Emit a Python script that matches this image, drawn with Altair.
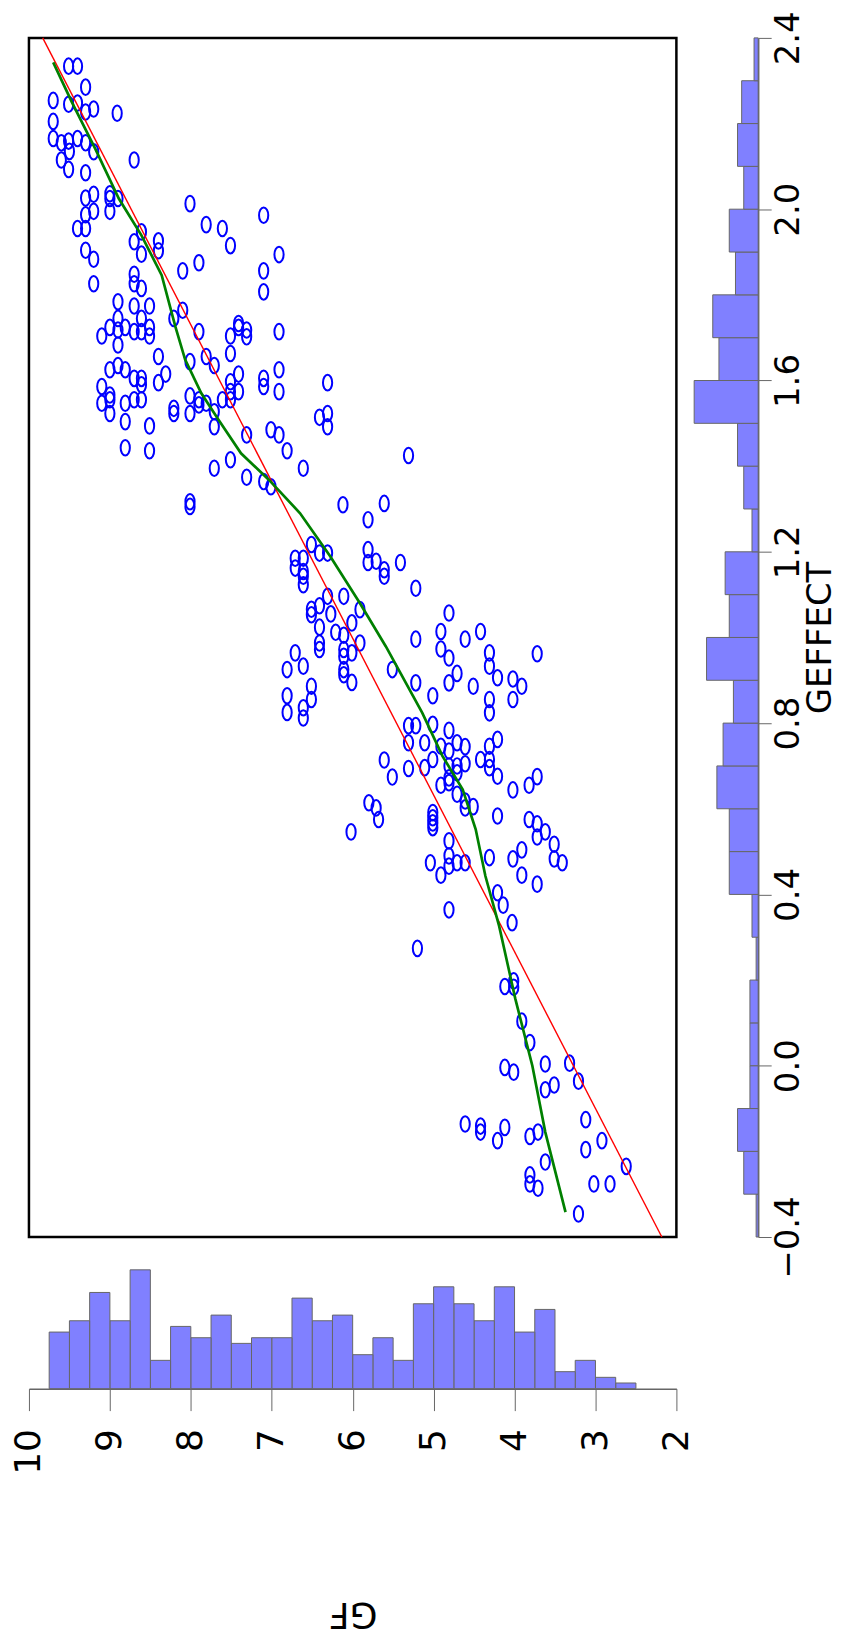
import altair as alt
import pandas as pd

# ---------------- data ----------------
gf = [9.51, 9.40, 9.30, 9.70, 9.51, 9.40, 9.30, 9.20, 8.91, 9.70, 9.70, 9.60, 9.51, 9.50, 9.40, 9.30, 9.20, 9.60, 9.51, 8.70,
      9.30, 9.30, 9.20, 9.00, 9.00, 8.90, 9.00, 9.20, 9.30, 9.40, 9.30, 8.01, 7.81, 7.61, 7.10, 7.51, 6.91, 8.70, 8.61, 8.61,
      8.40, 8.40, 9.30, 9.20, 8.10, 7.90, 7.10, 8.70, 9.20, 8.70, 8.61, 7.10, 8.90, 8.70, 8.51, 8.10, 8.21, 8.90, 8.61, 9.00,
      9.10, 8.90, 8.81, 8.70, 8.61, 8.51, 8.51, 8.90, 7.90, 7.51, 7.41, 7.41, 7.31, 7.31, 6.91, 7.51, 8.40, 8.01, 7.81, 7.71,
      9.00, 8.90, 8.81, 8.70, 8.61, 8.61, 8.31, 8.40, 9.10, 9.00, 9.00, 9.10, 9.00, 8.81, 8.70, 8.61, 8.81, 8.51, 8.81, 8.51,
      8.21, 8.21, 8.01, 8.01, 7.90, 7.90, 7.81, 7.71, 7.71, 7.61, 7.51, 7.51, 7.51, 7.41, 7.41, 7.10, 7.10, 6.91, 6.91, 6.31,
      6.41, 6.31, 6.31, 7.31, 7.01, 6.91, 6.81, 6.61, 7.51, 7.71, 7.31, 7.10, 7.01, 8.01, 8.01, 6.12, 5.31, 5.61, 5.81, 6.51,
      6.71, 6.71, 6.61, 6.61, 6.61, 6.61, 6.41, 6.31, 5.81, 5.81, 5.71, 5.61, 5.61, 5.41, 5.22, 6.31, 6.11, 6.41, 6.51, 6.51,
      5.91, 6.27, 6.01, 6.41, 6.21, 6.11, 4.81, 4.91, 4.42, 5.22, 4.61, 5.91, 6.41, 6.41, 6.71, 6.11, 6.11, 6.01, 6.61, 6.81,
      6.11, 6.11, 6.01, 6.51, 6.51, 6.81, 6.81, 6.61, 6.61, 5.51, 5.22, 4.91, 4.81, 4.81, 4.71, 4.51, 4.31, 4.31, 4.21, 5.01,
      4.31, 4.31, 5.31, 5.22, 5.01, 4.81, 5.31, 5.11, 4.91, 4.81, 4.71, 4.61, 5.01, 5.11, 5.31, 5.61, 5.51, 4.81, 4.71, 4.71,
      4.61, 4.81, 4.81, 4.91, 4.71, 4.61, 4.61, 4.51, 4.42, 4.31, 4.31, 4.31, 4.21, 4.21, 4.21, 5.80, 5.71, 5.68, 6.02, 5.01,
      5.01, 5.01, 5.01, 4.81, 4.81, 4.81, 5.04, 4.71, 4.61, 4.31, 4.91, 3.72, 4.02, 3.91, 4.02, 3.72, 3.82, 4.02, 3.82, 3.72,
      3.72, 3.62, 3.51, 3.51, 3.41, 3.91, 4.02, 3.91, 4.81, 3.72, 4.21, 4.14, 4.03, 5.20, 4.12, 4.01, 4.01, 3.91, 3.81, 4.12,
      4.01, 3.62, 3.32, 3.21, 3.62, 3.51, 4.61, 4.42, 4.42, 4.21, 4.12, 3.81, 3.71, 3.12, 3.12, 2.92, 3.62, 3.81, 3.81, 3.71,
      3.02, 2.82, 2.62, 3.21]

geffect = [2.334, 2.334, 2.285, 2.254, 2.245, 2.248, 2.227, 2.234, 2.224, 2.205, 2.165, 2.155, 2.159, 2.135, 2.165, 2.155, 2.134, 2.115, 2.093, 2.115,
           2.085, 2.026, 2.035, 2.036, 2.025, 2.025, 1.995, 1.995, 1.987, 1.955, 1.955, 2.013, 1.964, 1.955, 1.986, 1.915, 1.894, 1.924, 1.947, 1.895,
           1.926, 1.903, 1.904, 1.883, 1.856, 1.875, 1.856, 1.848, 1.826, 1.826, 1.815, 1.807, 1.784, 1.774, 1.774, 1.764, 1.745, 1.745, 1.745, 1.724,
           1.704, 1.718, 1.724, 1.714, 1.714, 1.724, 1.704, 1.683, 1.714, 1.704, 1.733, 1.724, 1.718, 1.702, 1.714, 1.663, 1.656, 1.644, 1.656, 1.635,
           1.625, 1.635, 1.625, 1.605, 1.605, 1.590, 1.615, 1.595, 1.586, 1.566, 1.555, 1.547, 1.523, 1.547, 1.555, 1.555, 1.504, 1.494, 1.443, 1.436,
           1.535, 1.523, 1.564, 1.523, 1.555, 1.543, 1.547, 1.527, 1.492, 1.555, 1.597, 1.574, 1.555, 1.615, 1.574, 1.605, 1.586, 1.625, 1.574, 1.595,
           1.514, 1.523, 1.492, 1.473, 1.485, 1.473, 1.436, 1.395, 1.415, 1.395, 1.374, 1.364, 1.352, 1.317, 1.306, 1.310, 1.425, 1.313, 1.275, 1.217,
           1.185, 1.162, 1.185, 1.154, 1.143, 1.123, 1.197, 1.197, 1.205, 1.175, 1.178, 1.158, 1.143, 1.175, 1.115, 1.096, 1.096, 1.074, 1.066, 1.053,
           1.065, 1.055, 1.034, 1.024, 1.012, 1.005, 1.057, 1.014, 1.014, 0.996, 0.996, 0.987, 0.987, 0.972, 0.964, 0.972, 0.956, 0.964, 0.933, 0.925,
           0.925, 0.913, 0.895, 0.886, 0.855, 0.864, 0.825, 0.836, 0.812, 0.925, 0.894, 0.973, 0.952, 0.894, 0.916, 0.886, 0.964, 0.933, 0.906, 0.864,
           0.855, 0.824, 0.794, 0.794, 0.797, 0.783, 0.754, 0.754, 0.746, 0.735, 0.754, 0.745, 0.715, 0.696, 0.694, 0.714, 0.674, 0.700, 0.700, 0.684,
           0.705, 0.672, 0.661, 0.655, 0.634, 0.618, 0.602, 0.605, 0.715, 0.746, 0.715, 0.696, 0.762, 0.676, 0.583, 0.614, 0.602, 0.575, 0.546, 0.591,
           0.579, 0.567, 0.556, 0.525, 0.490, 0.466, 0.474, 0.474, 0.474, 0.486, 0.445, 0.962, 0.903, 0.886, 0.855, 0.675, 0.655, 0.644, 0.575, 0.565,
           0.534, 0.546, 0.517, 0.483, 0.474, 0.504, 0.483, 0.445, 0.364, 0.424, 0.404, 0.375, 0.334, 0.274, 0.185, 0.198, 0.183, 0.104, 0.054, -0.004,
           -0.015, 0.004, 0.006, -0.036, -0.056, -0.045, -0.136, -0.141, -0.155, -0.175, -0.144, -0.165, -0.155, -0.126, -0.196, -0.175, -0.225, -0.255, -0.276, -0.286,
           -0.276, -0.276, -0.235, -0.346]

# straight fit (red)
fit_geffect = [-0.4, 2.4]
fit_gf = [2.18, 9.83]

# smooth (green)
smooth_geffect = [-0.342, -0.155, 0.0, 0.156, 0.326, 0.443, 0.552, 0.645, 0.723, 0.824, 0.979, 1.080, 1.190, 1.290,
                  1.369, 1.430, 1.509, 1.570, 1.649, 1.725, 1.846, 1.939, 2.025, 2.141, 2.250, 2.343]
smooth_gf = [3.37, 3.62, 3.78, 3.99, 4.19, 4.36, 4.48, 4.64, 4.89, 5.14, 5.59, 5.91, 6.28, 6.65,
             7.04, 7.38, 7.66, 7.87, 8.07, 8.19, 8.36, 8.61, 8.89, 9.18, 9.47, 9.70]

# GF histogram
gf_edges = [2.5, 2.75, 3.0, 3.25, 3.5, 3.75, 4.0, 4.25, 4.5, 4.75, 5.0, 5.25, 5.5, 5.75, 6.0,
            6.25, 6.5, 6.75, 7.0, 7.25, 7.5, 7.75, 8.0, 8.25, 8.5, 8.75, 9.0, 9.25, 9.5, 9.75]
gf_counts = [1, 2, 5, 3, 14, 10, 18, 12, 15, 18, 15, 5, 9, 6, 13, 12, 16, 9, 9, 8, 13, 9, 11, 5, 21, 12, 17, 12, 10]

# GEFFECT histogram
ge_edges = [-0.4, -0.3, -0.2, -0.1, 0.0, 0.1, 0.2, 0.3, 0.4, 0.5, 0.6, 0.7, 0.8, 0.9, 1.0,
            1.1, 1.2, 1.3, 1.4, 1.5, 1.6, 1.7, 1.8, 1.9, 2.0, 2.1, 2.2, 2.3, 2.4]
ge_counts = [1, 7, 10, 4, 4, 4, 1, 3, 14, 14, 20, 17, 12, 25, 14, 16, 3, 7, 10, 31, 19, 22, 11, 14, 7, 10, 8, 2]

gf_ticks = [2, 3, 4, 5, 6, 7, 8, 9, 10]
ge_ticks = [-0.4, 0.0, 0.4, 0.8, 1.2, 1.6, 2.0, 2.4]

# ---------------- tables ----------------
pts = pd.DataFrame({"GF": gf, "GEFFECT": geffect})
fit = pd.DataFrame({"GF": fit_gf, "GEFFECT": fit_geffect, "i": range(len(fit_gf))})
smooth = pd.DataFrame({"GF": smooth_gf, "GEFFECT": smooth_geffect, "i": range(len(smooth_gf))})
gf_hist = pd.DataFrame({"lo": gf_edges[:-1], "hi": gf_edges[1:], "count": gf_counts})
ge_hist = pd.DataFrame({"lo": ge_edges[:-1], "hi": ge_edges[1:], "count": ge_counts})

FONT = "DejaVu Sans"
GRAY = "#666666"
BAR_FILL = "#8080FF"
ELLIPSE = ("M0,-1C0.326,-1,0.59,-0.552,0.59,0C0.59,0.552,0.326,1,0,1"
           "C-0.326,1,-0.59,0.552,-0.59,0C-0.59,-0.552,-0.326,-1,0,-1Z")

W, H = 649, 1202
gf_scale = alt.Scale(domain=[2, 10], reverse=True, nice=False, zero=False)
ge_scale = alt.Scale(domain=[-0.4, 2.4], nice=False, zero=False)

# ---------------- scatter panel ----------------
points = alt.Chart(pts).mark_point(
    shape=ELLIPSE, filled=False, size=245, color="#0000FF", strokeWidth=2, opacity=1
).encode(
    x=alt.X("GF:Q", scale=gf_scale, axis=None),
    y=alt.Y("GEFFECT:Q", scale=ge_scale, axis=None),
)
red = alt.Chart(fit).mark_line(color="#FF0000", strokeWidth=1.4).encode(
    x=alt.X("GF:Q", scale=gf_scale, axis=None),
    y=alt.Y("GEFFECT:Q", scale=ge_scale, axis=None),
    order="i:Q",
)
green = alt.Chart(smooth).mark_line(color="#008000", strokeWidth=2.7).encode(
    x=alt.X("GF:Q", scale=gf_scale, axis=None),
    y=alt.Y("GEFFECT:Q", scale=ge_scale, axis=None),
    order="i:Q",
)
scatter = alt.layer(points, red, green).properties(
    width=W, height=H, view=alt.ViewBackground(stroke="black", strokeWidth=2.5)
)

# ---------------- right histogram (GEFFECT) ----------------
right_hist = alt.Chart(ge_hist).mark_rect(
    color=BAR_FILL, stroke=GRAY, strokeWidth=1
).encode(
    y=alt.Y("lo:Q", scale=ge_scale, axis=alt.Axis(
        orient="right", values=ge_ticks, format=".1f", grid=False,
        labelAngle=270, labelAlign="center", labelBaseline="top",
        labelFont=FONT, labelFontSize=34, labelColor="black", labelPadding=0,
        labelOverlap=False, labelFlush=False,
        tickSize=13, tickColor=GRAY, tickWidth=1,
        domainColor=GRAY, domainWidth=1.5,
        title="GEFFECT", titleAngle=270, titleFont=FONT, titleFontSize=34,
        titleFontWeight="normal", titleColor="black", titleX=62,
        titleAlign="center", titleBaseline="middle",
    )),
    y2="hi:Q",
    x=alt.X("count:Q", scale=alt.Scale(domain=[0, 39.6], reverse=True, nice=False), axis=None),
    x2=alt.datum(0),
).properties(width=82, height=H)

# ---------------- bottom histogram (GF) ----------------
bottom_hist = alt.Chart(gf_hist).mark_rect(
    color=BAR_FILL, stroke=GRAY, strokeWidth=1
).encode(
    x=alt.X("lo:Q", scale=gf_scale, axis=alt.Axis(
        orient="bottom", values=gf_ticks, format="d", grid=False,
        labelAngle=270, labelAlign="right", labelBaseline="middle",
        labelFont=FONT, labelFontSize=36, labelColor="black", labelPadding=18,
        labelOverlap=False, labelFlush=False,
        tickSize=22, tickColor=GRAY, tickWidth=1,
        domainColor=GRAY, domainWidth=1.5,
        title="GF", titleAngle=180, titleFont=FONT, titleFontSize=36,
        titleFontWeight="normal", titleColor="black", titleY=225,
        titleAlign="center", titleBaseline="middle",
    )),
    x2="hi:Q",
    y=alt.Y("count:Q", scale=alt.Scale(domain=[0, 26.8], nice=False), axis=None),
    y2=alt.datum(0),
).properties(width=W, height=152)

chart = alt.concat(
    scatter, right_hist, bottom_hist, columns=2, spacing=0, bounds="flush"
).properties(
    padding={"left": 3, "top": 0, "right": 3, "bottom": 12},
    background="white",
).configure_view(stroke=None)

chart.save("out.html", embed_options={"renderer": "svg", "actions": False})
